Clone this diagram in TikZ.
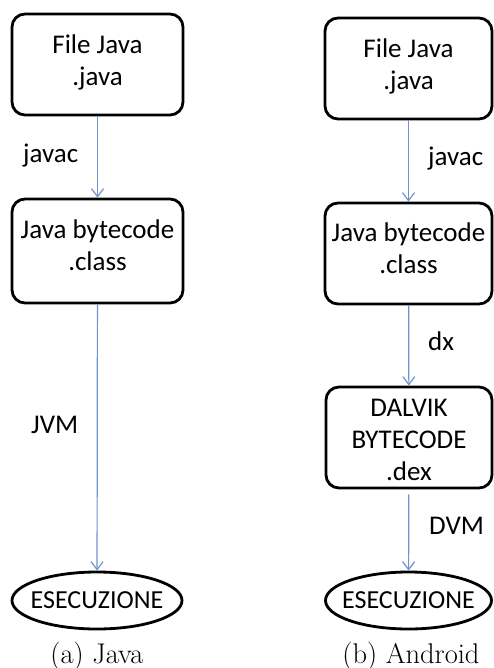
\documentclass[tikz,border=0pt]{standalone}
\usepackage{fontspec}
\newfontfamily\calfont{Carlito}
\usetikzlibrary{shapes.geometric,arrows.meta}
\definecolor{arrowblue}{RGB}{110,148,204}
\tikzset{
  box/.style={draw=black, line width=2.8pt, rounded corners=13pt, rectangle, inner sep=0pt},
  oval/.style={draw=black, line width=2.8pt, ellipse, inner sep=0pt, minimum width=#1, minimum height=57pt},
  txt/.style={align=center, inner sep=0pt, font=\calfont\fontsize{27}{32}\selectfont},
  ovaltxt/.style={inner sep=0pt, font=\calfont\fontsize{26}{32}\selectfont},
  lbl/.style={inner sep=0pt, anchor=base west, font=\calfont\fontsize{27}{32}\selectfont},
  captext/.style={inner sep=0pt, anchor=base, font=\fontsize{28.5}{34}\selectfont},
  flow/.style={draw=arrowblue, line width=1.2pt, -{Straight Barb[length=8pt,width=12pt]}},
}
\begin{document}
\begin{tikzpicture}[x=1pt,y=-1pt]
\path[use as bounding box] (0,0) rectangle (493,668);
% ---------- (a) Java ----------
\node[box, minimum width=171pt, minimum height=101pt] (a1) at (97.5,64.5) {};
\node[txt] (ta1) at ([yshift=2pt]a1.center) {File Java\\.java};
\node[box, minimum width=171pt, minimum height=104pt] (a2) at (97.5,251) {};
\node[txt] (ta2) at ([yshift=6pt]a2.center) {Java bytecode\\.class};
\node[oval=170pt] (a3) at (97,600.5) {};
\node[ovaltxt] (ta3) at (a3.center) {ESECUZIONE};
\draw[flow] (a1) -- (a2);
\draw[flow] (a2) -- (a3);
\node[lbl] (la1) at (23,163) {javac};
\node[lbl] (la2) at (31,433) {JVM};
\node[captext] (capa) at (97,663) {(a) Java};
% ---------- (b) Android ----------
\node[box, minimum width=167pt, minimum height=101pt] (b1) at (408.5,68.5) {};
\node[txt] (tb1) at ([yshift=2.5pt]b1.center) {File Java\\.java};
\node[box, minimum width=167pt, minimum height=101pt] (b2) at (408.5,253.5) {};
\node[txt] (tb2) at ([yshift=5.5pt]b2.center) {Java bytecode\\.class};
\node[box, minimum width=166pt, minimum height=101pt] (b3) at (409,437.5) {};
\node[txt] (tb3) at ([yshift=-2pt]b3.center) {DALVIK\\BYTECODE\\.dex};
\node[oval=166pt] (b4) at (408.5,600.5) {};
\node[ovaltxt] (tb4) at (b4.center) {ESECUZIONE};
\draw[flow] (b1) -- (b2);
\draw[flow] (b2) -- (b3);
\draw[flow, shorten <=5pt] (b3) -- (b4);
\node[lbl] (lb1) at (428,166) {javac};
\node[lbl] (lb2) at (428,350) {dx};
\node[lbl] (lb3) at (429,534) {DVM};
\node[captext] (capb) at (411,663) {(b) Android};
\end{tikzpicture}
\end{document}
